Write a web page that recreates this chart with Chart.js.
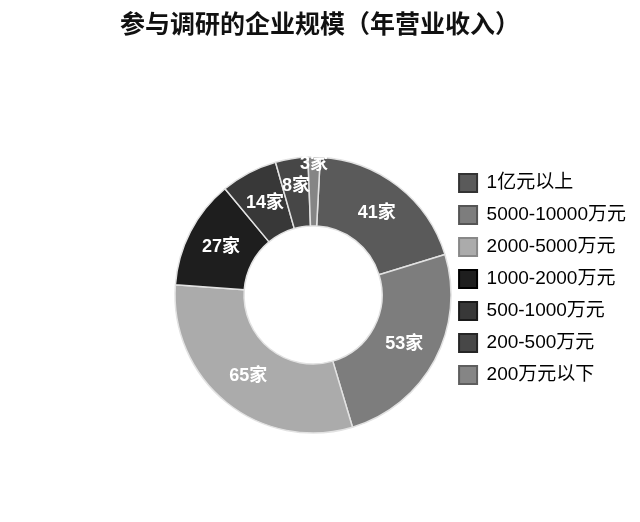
<!DOCTYPE html>
<html>
<head>
<meta charset="utf-8">
<script src="https://cdn.jsdelivr.net/npm/chart.js@4"></script>
<style>
  html, body { margin: 0; padding: 0; background: #fff; }
  #wrap { width: 640px; height: 522px; }
</style>
</head>
<body>
<div id="wrap"><canvas id="chart" width="640" height="522"></canvas></div>
<script>
const categories = ['1亿元以上', '5000-10000万元', '2000-5000万元', '1000-2000万元', '500-1000万元', '200-500万元', '200万元以下'];
const companies = [41, 53, 65, 27, 14, 8, 3];
const unit = '家';
const sliceColors = ['#5a5a5a', '#7d7d7d', '#ababab', '#1e1e1e', '#383838', '#474747', '#858585'];
const boxEdges = ['#333333', '#555555', '#888888', '#000000', '#1a1a1a', '#262626', '#5e5e5e'];

// white value labels in the middle of each slice, small slices pushed out
const sliceLabels = {
    id: 'sliceLabels',
    afterDatasetsDraw(chart) {
        const ctx = chart.ctx;
        const meta = chart.getDatasetMeta(0);
        ctx.save();
        ctx.font = 'bold 18px "Liberation Sans", "Noto Sans CJK SC", sans-serif';
        ctx.fillStyle = '#ffffff';
        ctx.textAlign = 'center';
        ctx.textBaseline = 'middle';
        meta.data.forEach((arc, i) => {
            const p = arc.getProps(['x', 'y', 'startAngle', 'endAngle', 'innerRadius', 'outerRadius'], true);
            const mid = (p.startAngle + p.endAngle) / 2;
            const span = p.endAngle - p.startAngle;
            let r = (p.innerRadius + p.outerRadius) / 2;
            if (span < 0.1) r = p.outerRadius - 7;
            else if (span < 0.3) r = p.outerRadius - 28;
            ctx.fillText(companies[i] + unit, p.x + Math.cos(mid) * r, p.y + Math.sin(mid) * r);
        });
        ctx.restore();
    }
};

// title spans the whole canvas, legend sits a bit lower than its box
const boxFix = {
    id: 'boxFix',
    afterLayout(chart) {
        const t = chart.titleBlock;
        t.left = 0;
        t.right = chart.width;
        t.width = chart.width;
        t.top -= 20;
        t.bottom -= 20;
        chart.legend.top += 8;
        chart.legend.bottom += 8;
    }
};

new Chart(document.getElementById('chart'), {
    type: 'doughnut',
    data: {
        labels: categories,
        datasets: [{
            data: companies,
            backgroundColor: sliceColors,
            borderColor: '#e2e2e2',
            borderWidth: 1.5
        }]
    },
    plugins: [sliceLabels, boxFix],
    options: {
        responsive: false,
        animation: false,
        radius: 138,
        cutout: '50%',
        rotation: 3,
        layout: { padding: { left: 180, top: 20, right: 4, bottom: 0 } },
        plugins: {
            tooltip: { enabled: false },
            title: {
                display: true,
                text: '参与调研的企业规模（年营业收入）',
                color: '#111111',
                font: { family: '"Noto Sans CJK SC", sans-serif', size: 25, weight: 'bold' },
                padding: { top: 8, bottom: 10 }
            },
            legend: {
                position: 'right',
                align: 'center',
                labels: {
                    boxWidth: 18,
                    boxHeight: 18,
                    padding: 13,
                    color: '#262626',
                    font: { family: '"Liberation Sans", "Noto Sans CJK SC", sans-serif', size: 19 },
                    generateLabels(chart) {
                        return categories.map((c, i) => ({
                            text: c,
                            fillStyle: sliceColors[i],
                            strokeStyle: boxEdges[i],
                            lineWidth: 2,
                            hidden: false,
                            index: i
                        }));
                    }
                }
            }
        }
    }
});
</script>
</body>
</html>
